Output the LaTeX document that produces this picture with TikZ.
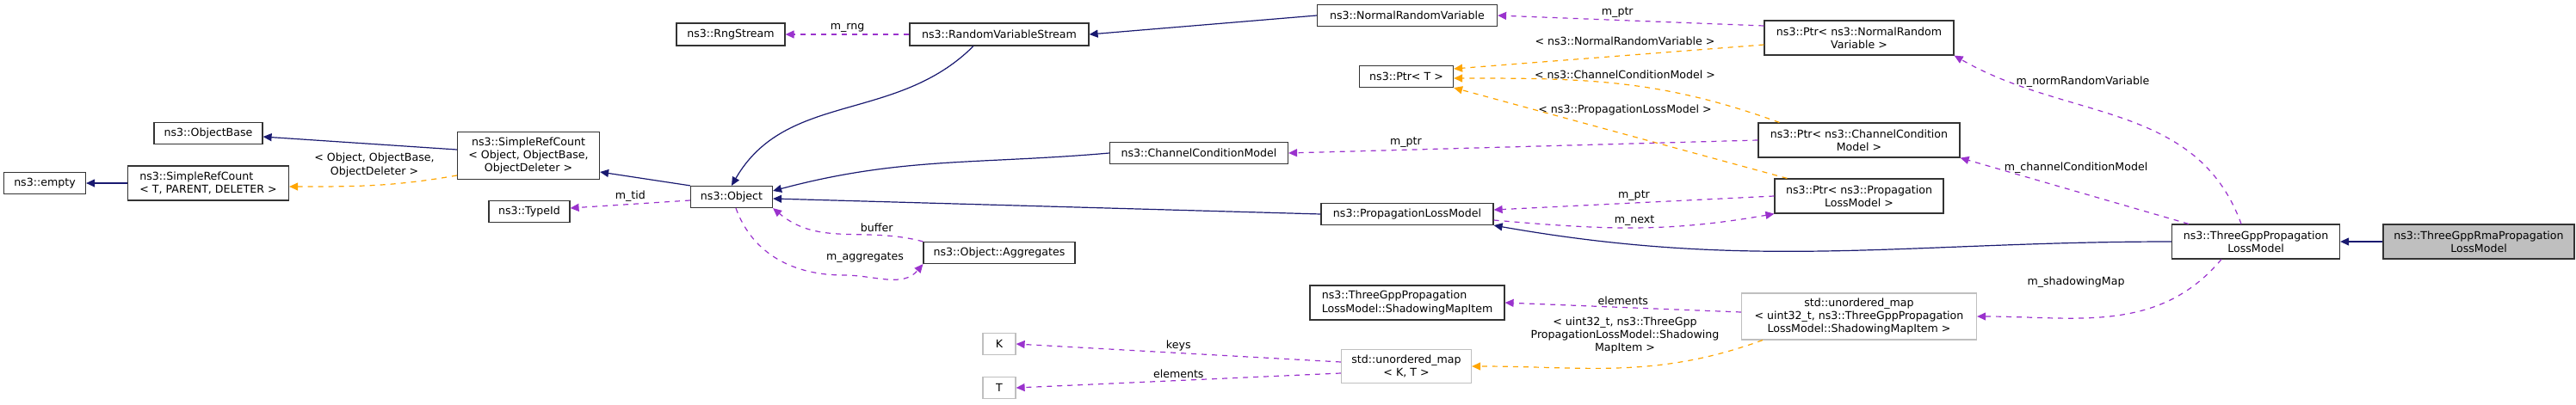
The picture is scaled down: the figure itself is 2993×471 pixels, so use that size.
\documentclass[tikz,border=0pt]{standalone}
\usepackage{fontspec}
\setmainfont{DejaVu Sans}
\usepackage{xcolor}
\usetikzlibrary{arrows.meta}

\definecolor{inhcol}{HTML}{191970}
\definecolor{usecol}{HTML}{9A32CD}
\definecolor{tplcol}{HTML}{FFA500}

\begin{document}
\begin{tikzpicture}[
    x=0.5pt, y=-0.5pt,
    font=\fontsize{6.3}{7.6}\selectfont,
    cls/.style={rectangle, draw=black!80, fill=white, line width=0.6pt, inner sep=2pt, align=center},
    cls_ext/.style={cls, draw=black!25},
    cls_main/.style={cls, fill=black!25},
    tip/.style={-{Triangle[length=5pt,width=4.5pt]}},
    inh/.style={tip, draw=inhcol, line width=0.6pt},
    use/.style={tip, draw=usecol, dashed, line width=0.6pt},
    tpl/.style={tip, draw=tplcol, dashed, line width=0.6pt},
    lbl/.style={align=center, inner sep=1pt},
]
\useasboundingbox (0,0) rectangle (2993,471);
% Left part
\node[cls, minimum width=47.5pt, minimum height=12.5pt] (empty) at (52,213) {ns3::empty};
\node[cls, minimum width=93.5pt, minimum height=20pt, align=left] (srcT) at (242,213) {ns3::SimpleRefCount\\< T, PARENT, DELETER >};
\node[cls, minimum width=63pt, minimum height=12.5pt] (objbase) at (242,155) {ns3::ObjectBase};
\node[cls, minimum width=82.5pt, minimum height=27.5pt] (srcObj) at (614,181) {ns3::SimpleRefCount\\< Object, ObjectBase,\\ObjectDeleter >};
\node[cls, minimum width=47pt, minimum height=12.5pt] (typeid) at (615,246) {ns3::TypeId};
\node[cls, minimum width=47.5pt, minimum height=12.5pt] (object) at (850,229) {ns3::Object};
\node[cls, minimum width=63pt, minimum height=13pt] (rng) at (849,40) {ns3::RngStream};
% Middle part
\node[cls, minimum width=104pt, minimum height=13pt] (rvs) at (1161,40) {ns3::RandomVariableStream};
\node[cls, minimum width=88pt, minimum height=12.5pt] (aggr) at (1161,294) {ns3::Object::Aggregates};
\node[cls_ext, minimum width=19pt, minimum height=12.5pt] (keyK) at (1161,400) {K};
\node[cls_ext, minimum width=19pt, minimum height=12.5pt] (valT) at (1161,451) {T};
\node[cls, minimum width=103.5pt, minimum height=12.5pt] (ccm) at (1393,178) {ns3::ChannelConditionModel};
\node[cls, minimum width=104.5pt, minimum height=12.5pt] (nrv) at (1635,18) {ns3::NormalRandomVariable};
\node[cls, minimum width=54.5pt, minimum height=12.5pt] (ptrT) at (1634,89) {ns3::Ptr< T >};
\node[cls, minimum width=100pt, minimum height=12.5pt] (plm) at (1635,249) {ns3::PropagationLossModel};
\node[cls, minimum width=113pt, minimum height=20pt, align=left] (smi) at (1635,352) {ns3::ThreeGppPropagation\\LossModel::ShadowingMapItem};
\node[cls_ext, minimum width=75.5pt, minimum height=19.5pt] (umapKT) at (1634,426) {std::unordered\_map\\< K, T >};
% Right part
\node[cls, minimum width=110pt, minimum height=20pt] (ptrNRV) at (2160,44) {ns3::Ptr< ns3::NormalRandom\\Variable >};
\node[cls, minimum width=117pt, minimum height=20pt] (ptrCCM) at (2160,163) {ns3::Ptr< ns3::ChannelCondition\\Model >};
\node[cls, minimum width=98pt, minimum height=20pt] (ptrPLM) at (2160,228) {ns3::Ptr< ns3::Propagation\\LossModel >};
\node[cls_ext, minimum width=136.5pt, minimum height=27pt] (umapU) at (2160,368) {std::unordered\_map\\< uint32\_t, ns3::ThreeGppPropagation\\LossModel::ShadowingMapItem >};
\node[cls, minimum width=97.5pt, minimum height=20pt] (tgpp) at (2621,281) {ns3::ThreeGppPropagation\\LossModel};
\node[cls_main, minimum width=111pt, minimum height=20pt] (rma) at (2880,281) {ns3::ThreeGppRmaPropagation\\LossModel};

% Inheritance
\draw[inh] (srcT) -- (empty);
\draw[inh] (srcObj.west |- 0,174) -- (objbase.east |- 0,159);
\draw[inh] (object.north west) -- (srcObj.east |- 0,200);
\draw[inh] (rvs.south) ++(-30,0) to[out=225,in=60] (object.north);
\draw[inh] (ccm.west) to[out=185,in=15] (object.east |- 0,222);
\draw[inh] (plm.west) -- (object.east |- 0,231);
\draw[inh] (nrv.west) -- (rvs.east);
\draw[inh] (tgpp.west) to[out=180,in=-10] (plm.south east);
\draw[inh] (rma) -- (tgpp);

% Templates
\draw[tpl] (srcObj.west |- 0,204) to[out=190,in=0] (srcT.east |- 0,217);
\node[lbl] (srclbl) at (435,192) {< Object, ObjectBase,\\ObjectDeleter >};
\draw[tpl] (ptrNRV.west |- 0,52) -- (ptrT.east |- 0,80);
\node[lbl] (nrvtpl) at (1888,48) {< ns3::NormalRandomVariable >};
\draw[tpl] (ptrCCM.north west) ++(25,0) to[out=160,in=0] (ptrT.east |- 0,91);
\node[lbl] (ccmtpl) at (1888,87) {< ns3::ChannelConditionModel >};
\draw[tpl] (ptrPLM.north west) ++(15,0) -- (ptrT.south east);
\node[lbl] (plmtpl) at (1888,128) {< ns3::PropagationLossModel >};
\draw[tpl] (umapU.south west) ++(25,0) to[out=200,in=0] (umapKT.east);
\node[lbl] (umaptpl) at (1888,390) {< uint32\_t, ns3::ThreeGpp\\PropagationLossModel::Shadowing\\MapItem >};

% Members
\draw[use] (rvs.west) -- node[lbl, above] {m\_rng} (rng.east);
\draw[use] (object.west |- 0,233) -- node[lbl, above] {m\_tid} (typeid.east |- 0,242);
\draw[use] (aggr.north west) to[out=165,in=-40] node[lbl, above right, pos=0.4] {buffer} (object.south east) ;
\draw[use] (object.south) ++(5,0) to[out=-70,in=180] (980,320) to[out=0,in=-130] (aggr.south west);
\node[lbl] (aggrlbl) at (1005,300) {m\_aggregates};
\draw[use] (ptrNRV.west |- 0,30) -- node[lbl, above, pos=0.55] {m\_ptr} (nrv.east);
\draw[use] (ptrCCM.west) -- node[lbl, above, pos=0.75] {m\_ptr} (ccm.east);
\draw[use] (ptrPLM.west) -- node[lbl, above, pos=0.5] {m\_ptr} (plm.east |- 0,244);
\draw[use] (plm.east |- 0,256) to[out=-5,in=190] node[lbl, above, pos=0.5] {m\_next} (ptrPLM.south west);
\draw[use] (tgpp.north) ++(-17,0) to[out=110,in=-30] (ptrNRV.south east);
\node[lbl] (nrvlbl) at (2420,95) {m\_normRandomVariable};
\draw[use] (tgpp.north west) ++(20,0) -- (ptrCCM.south east);
\node[lbl] (ccmlbl) at (2412,195) {m\_channelConditionModel};
\draw[use] (tgpp.south) ++(-40,0) to[out=-130,in=0] (umapU.east);
\node[lbl] (smlbl) at (2412,328) {m\_shadowingMap};
\draw[use] (umapU.west |- 0,363) -- node[lbl, above] {elements} (smi.east);
\draw[use] (umapKT.west |- 0,421) -- node[lbl, above] {keys} (keyK.east);
\draw[use] (umapKT.west |- 0,434) -- node[lbl, above] {elements} (valT.east);
\end{tikzpicture}
\end{document}
